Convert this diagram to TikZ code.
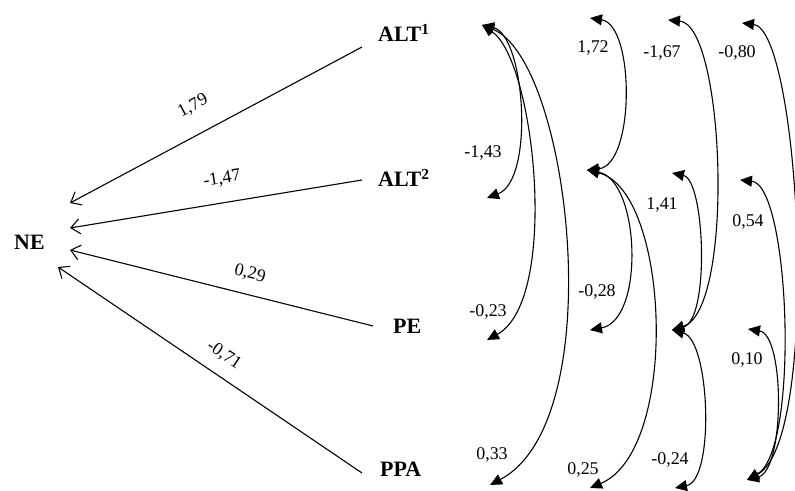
\documentclass[tikz,border=0pt]{standalone}
\usepackage{fontspec}
\setmainfont{Liberation Serif}
\usetikzlibrary{arrows.meta}
\begin{document}
\begin{tikzpicture}[x=1bp,y=-1bp,
  lab/.style={font=\fontsize{22}{24}\selectfont\bfseries, inner sep=0pt, anchor=base west},
  num/.style={font=\fontsize{18}{20}\selectfont, inner sep=0pt},
  pathline/.style={line width=1.1bp, -{Straight Barb[length=9bp,width=15bp,line width=1.1bp]}},
  cov/.style={line width=1.1bp, {Triangle[length=12bp,width=11bp]}-{Triangle[length=12bp,width=11bp]}}]
\useasboundingbox (0,0) rectangle (795,491);

% variable labels
\node[lab] (ne) at (14,250) {NE};
\node[lab] (alt1) at (378,42) {ALT\textsuperscript{1}};
\node[lab] (alt2) at (378,187) {ALT\textsuperscript{2}};
\node[lab] (pe) at (393,333) {PE};
\node[lab] (ppa) at (380,476) {PPA};

% connector ends
\coordinate (s1) at (362,47);  \coordinate (e1) at (70,203);
\coordinate (s2) at (362,180); \coordinate (e2) at (70,228);
\coordinate (s3) at (373,326); \coordinate (e3) at (70,250);
\coordinate (s4) at (362,473); \coordinate (e4) at (58,267);

\draw[pathline] (s1) -- (e1);
\draw[pathline] (s2) -- (e2);
\draw[pathline] (s3) -- (e3);
\draw[pathline] (s4) -- (e4);

\node[num, rotate=28] (l179) at (193,106) {1,79};
\node[num, rotate=9] (l147) at (222,179) {-1,47};
\node[num, rotate=-14] (l029) at (250,274) {0,29};
\node[num, rotate=-34] (l071) at (224,355) {-0,71};

% covariance end points
\coordinate (c11) at (482,25);
\coordinate (c12) at (487,198);
\coordinate (c13) at (487,340);
\coordinate (c14) at (490,485);
\coordinate (c21) at (590,18);
\coordinate (c22) at (587,170);
\coordinate (c23) at (590,330);
\coordinate (c24) at (590,488);
\coordinate (c31) at (668,20);
\coordinate (c32) at (672,173);
\coordinate (c33) at (672,330);
\coordinate (c34) at (675,488);
\coordinate (c41) at (742,23);
\coordinate (c42) at (740,180);
\coordinate (c43) at (748,329);
\coordinate (c44) at (747,480);

% column 1
\draw[cov] (c11) .. controls (525,35) and (535,180) .. (c12);
\draw[cov] (c11) .. controls (535,60) and (560,300) .. (c13);
\draw[cov] (c11) .. controls (570,60) and (612,420) .. (c14);
% column 2
\draw[cov] (c21) .. controls (635,25) and (635,165) .. (c22);
\draw[cov] (c22) .. controls (640,180) and (645,320) .. (c23);
\draw[cov] (c22) .. controls (670,190) and (680,450) .. (c24);
% column 3
\draw[cov] (c31) .. controls (725,25) and (735,310) .. (c33);
\draw[cov] (c32) .. controls (705,180) and (710,320) .. (c33);
\draw[cov] (c33) .. controls (710,340) and (715,480) .. (c34);
% column 4
\draw[cov] (c41) .. controls (800,30) and (822,440) .. (c44);
\draw[cov] (c42) .. controls (790,185) and (800,450) .. (c44);
\draw[cov] (c43) .. controls (785,335) and (785,470) .. (c44);

% covariance labels
\node[num] (v143) at (483,153) {-1,43};
\node[num] (v023) at (488,312) {-0,23};
\node[num] (v033) at (492,455) {0,33};
\node[num] (v172) at (593,48) {1,72};
\node[num] (v028) at (597,292) {-0,28};
\node[num] (v025) at (583,470) {0,25};
\node[num] (v167) at (662,53) {-1,67};
\node[num] (v141) at (662,205) {1,41};
\node[num] (v024) at (670,460) {-0,24};
\node[num] (v080) at (737,53) {-0,80};
\node[num] (v054) at (748,222) {0,54};
\node[num] (v010) at (747,360) {0,10};
\end{tikzpicture}
\end{document}
